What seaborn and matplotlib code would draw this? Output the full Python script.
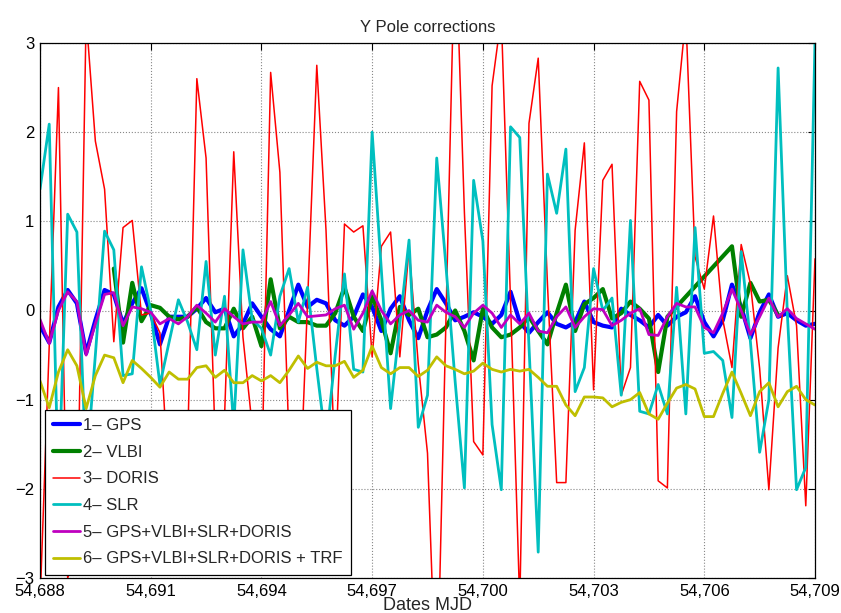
import numpy as np
import pandas as pd
import matplotlib
matplotlib.use("Agg")
import matplotlib.pyplot as plt
import seaborn as sns
from matplotlib.ticker import FuncFormatter

nan = np.nan

# Dates (MJD), 6-hourly sampling
mjd_start = 54688
n_points = 85
mjd = mjd_start + 0.25 * np.arange(n_points)

gps = [-0.17, -0.36, 0.04, 0.23, 0.08, -0.48, -0.11, 0.23, 0.18, -0.15,
       0.08, 0.25, -0.03, -0.38, -0.07, -0.07, -0.07, 0.02, 0.14, -0.02,
       0.02, -0.29, -0.15, 0.08, -0.07, -0.21, -0.29, 0.0, 0.29, 0.04,
       0.12, 0.08, -0.11, -0.17, -0.07, 0.18, 0.04, -0.23, 0.02, 0.16,
       -0.11, -0.31, 0.0, 0.24, 0.08, -0.11, -0.07, -0.02, -0.07, -0.15,
       -0.05, 0.21, -0.13, -0.25, -0.13, -0.02, -0.15, -0.19, -0.13, 0.1,
       -0.13, -0.17, -0.19, 0.02, -0.05, -0.11, -0.19, -0.05, -0.17, -0.07,
       -0.02, 0.16, -0.13, -0.29, -0.11, 0.29, 0.04, -0.31, -0.02, 0.18,
       -0.07, -0.03, -0.11, -0.17, -0.15]

vlbi = [nan, nan, nan, nan, nan, nan, nan, nan, 0.47, -0.36,
        0.31, -0.12, 0.06, 0.03, -0.07, -0.10, -0.07, 0.04, -0.13, -0.20,
        -0.20, 0.02, -0.20, -0.07, -0.40, 0.35, -0.20, -0.07, -0.13, -0.13,
        -0.17, -0.17, -0.03, 0.26, -0.07, -0.23, 0.16, -0.11, -0.48, 0.04,
        -0.05, 0.02, -0.30, -0.27, -0.19, 0.0, -0.23, -0.56, 0.02, -0.19,
        -0.30, -0.27, -0.19, -0.07, -0.23, -0.38, -0.03, 0.29, -0.23, 0.07,
        0.14, 0.24, -0.09, -0.03, 0.10, 0.02, -0.09, -0.69, -0.07, nan,
        nan, nan, nan, nan, nan, 0.72, -0.07, 0.31, 0.10, 0.12,
        -0.05, nan, nan, nan, nan]

doris = [-3.3, -0.4, 2.5, -3.0, -2.7, 3.3, 1.9, 1.36, -0.35, 0.93,
         1.01, -0.05, -0.03, -0.25, -2.0, -2.5, -1.5, 2.6, 1.71, -1.5,
         -1.2, 1.78, -0.3, -1.3, -2.0, 2.67, 1.55, -1.5, -2.5, 0.1,
         2.75, 0.9, -1.8, 0.97, 0.88, 0.95, -0.52, 0.72, 0.88, -0.52,
         0.7, -0.6, -1.6, -4.5, -0.1, 4.3, 1.1, -1.47, -1.62, 2.52,
         3.3, 0.1, -3.3, 2.1, 2.83, 0.3, -1.93, -1.93, 0.9, 1.88,
         -0.89, 1.46, 1.64, -0.95, -0.64, 2.57, 2.36, -1.91, -1.99, 2.23,
         3.3, 0.6, 0.24, 1.06, -0.1, -0.64, 0.74, 0.3, -0.65, -2.01,
         -0.42, 0.39, -0.17, -2.19, 0.58]

slr = [1.36, 2.09, -2.0, 1.08, 0.88, -1.8, -0.5, 0.89, 0.68, -0.73,
       -0.71, 0.49, 0.0, -0.83, -0.35, 0.12, -0.13, -0.44, 0.55, -0.5,
       0.16, -1.3, 0.68, -0.1, -0.2, -0.5, 0.16, 0.47, -0.13, 0.26,
       -0.65, -1.5, -0.5, 0.41, -0.66, -0.69, 2.0, 0.45, -1.1, -0.15,
       0.79, -1.31, -0.95, 1.71, 0.5, -0.8, -1.99, 1.46, 0.78, -1.28,
       -2.01, 2.06, 1.94, -0.4, -2.71, 1.53, 1.09, 1.81, -0.91, -0.64,
       0.47, 0.0, 0.14, -0.95, 1.01, -1.13, -1.16, -0.83, -1.16, 0.26,
       -1.16, 0.93, -0.48, -0.46, -0.56, -1.2, 0.66, -0.35, -1.59, -1.0,
       2.72, -0.03, -2.01, -1.76, 3.03]

combined = [-0.1, -0.37, 0.0, 0.21, 0.1, -0.5, -0.15, 0.18, 0.2, -0.17,
            0.04, 0.02, -0.02, -0.15, -0.09, -0.15, -0.07, 0.06, -0.03, -0.13,
            0.02, -0.07, -0.15, -0.13, -0.13, 0.1, -0.17, -0.05, 0.08, -0.07,
            -0.06, -0.05, 0.02, 0.06, -0.21, -0.03, 0.22, 0.0, -0.15, -0.05,
            0.0, -0.11, -0.13, 0.06, -0.02, -0.07, -0.19, -0.03, 0.06, -0.03,
            -0.19, -0.05, -0.15, -0.03, -0.23, -0.25, -0.07, 0.04, -0.19, -0.07,
            0.02, 0.01, -0.17, -0.11, -0.03, 0.02, -0.27, -0.28, -0.07, 0.08,
            0.04, 0.04, -0.19, -0.25, -0.03, 0.24, 0.0, -0.27, -0.07, 0.14,
            -0.07, 0.02, -0.09, -0.15, -0.21]

combined_trf = [-0.79, -1.09, -0.69, -0.44, -0.62, -1.1, -0.73, -0.5, -0.53, -0.81,
                -0.56, -0.65, -0.75, -0.86, -0.69, -0.77, -0.77, -0.64, -0.62, -0.75,
                -0.67, -0.81, -0.81, -0.73, -0.79, -0.73, -0.81, -0.67, -0.51, -0.65,
                -0.58, -0.62, -0.62, -0.57, -0.75, -0.67, -0.4, -0.64, -0.71, -0.64,
                -0.64, -0.74, -0.67, -0.52, -0.62, -0.66, -0.71, -0.68, -0.59, -0.66,
                -0.69, -0.66, -0.68, -0.66, -0.75, -0.85, -0.85, -1.06, -1.18, -0.97,
                -0.97, -0.98, -1.08, -1.03, -1.0, -0.92, -1.16, -1.22, -1.04, -0.87,
                -0.83, -0.88, -1.19, -1.19, -0.93, -0.69, -0.93, -1.18, -0.91, -0.81,
                -1.08, -0.91, -0.85, -1.0, -1.06]

labels = ["1\u2013 GPS", "2\u2013 VLBI", "3\u2013 DORIS", "4\u2013 SLR",
          "5\u2013 GPS+VLBI+SLR+DORIS", "6\u2013 GPS+VLBI+SLR+DORIS + TRF"]
x_ticks = [54688, 54691, 54694, 54697, 54700, 54703, 54706, 54709]
y_ticks = [-3, -2, -1, 0, 1, 2, 3]

series = [gps, vlbi, doris, slr, combined, combined_trf]
colors = ["#0000ff", "#008000", "#ff0000", "#00bfbf", "#bf00bf", "#bfbf00"]
widths = [3.0, 3.0, 1.1, 2.0, 2.0, 2.0]

frames = []
for lab, vals in zip(labels, series):
    frames.append(pd.DataFrame({"mjd": mjd, "value": vals, "series": lab}))
df = pd.concat(frames, ignore_index=True).dropna()

sns.set_style("white")
plt.rcParams["font.family"] = ["Liberation Sans", "DejaVu Sans"]

fig = plt.figure(figsize=(8.41, 6.13), dpi=100)
ax = fig.add_axes([40 / 841, 35 / 613, 775 / 841, 535 / 613])

for lab, col, lw in zip(labels, colors, widths):
    sub = df[df["series"] == lab]
    sns.lineplot(data=sub, x="mjd", y="value", color=col, linewidth=lw,
                 ax=ax, label=lab, estimator=None, sort=False)

ax.set_xlim(54688, 54709)
ax.set_ylim(-3, 3)
ax.set_xticks(x_ticks)
ax.set_yticks(y_ticks)
ax.xaxis.set_major_formatter(FuncFormatter(lambda v, p: f"{int(round(v)):,}"))
ax.yaxis.set_major_formatter(FuncFormatter(lambda v, p: f"{int(v)}".replace("-", "\u2212")))
ax.tick_params(direction="in", top=True, right=True, length=5, width=0.8,
               labelsize=12, colors="black", pad=4)
ax.grid(True, linestyle=":", color="#888888", linewidth=0.8)
for s in ax.spines.values():
    s.set_color("black")
    s.set_linewidth(0.9)

ax.set_title("Y Pole corrections", fontsize=12, pad=8)
ax.set_xlabel("Dates MJD", fontsize=13, labelpad=-1)
ax.set_ylabel("")

leg = ax.legend(loc="lower left", bbox_to_anchor=(0.006, 0.006), borderaxespad=0,
                frameon=True, fancybox=False, edgecolor="black", framealpha=1,
                fontsize=12, handlelength=1.6, handletextpad=0.2, labelspacing=0.7,
                borderpad=0.5)
leg.get_frame().set_linewidth(0.9)

fig.savefig("out.png", dpi=100)
